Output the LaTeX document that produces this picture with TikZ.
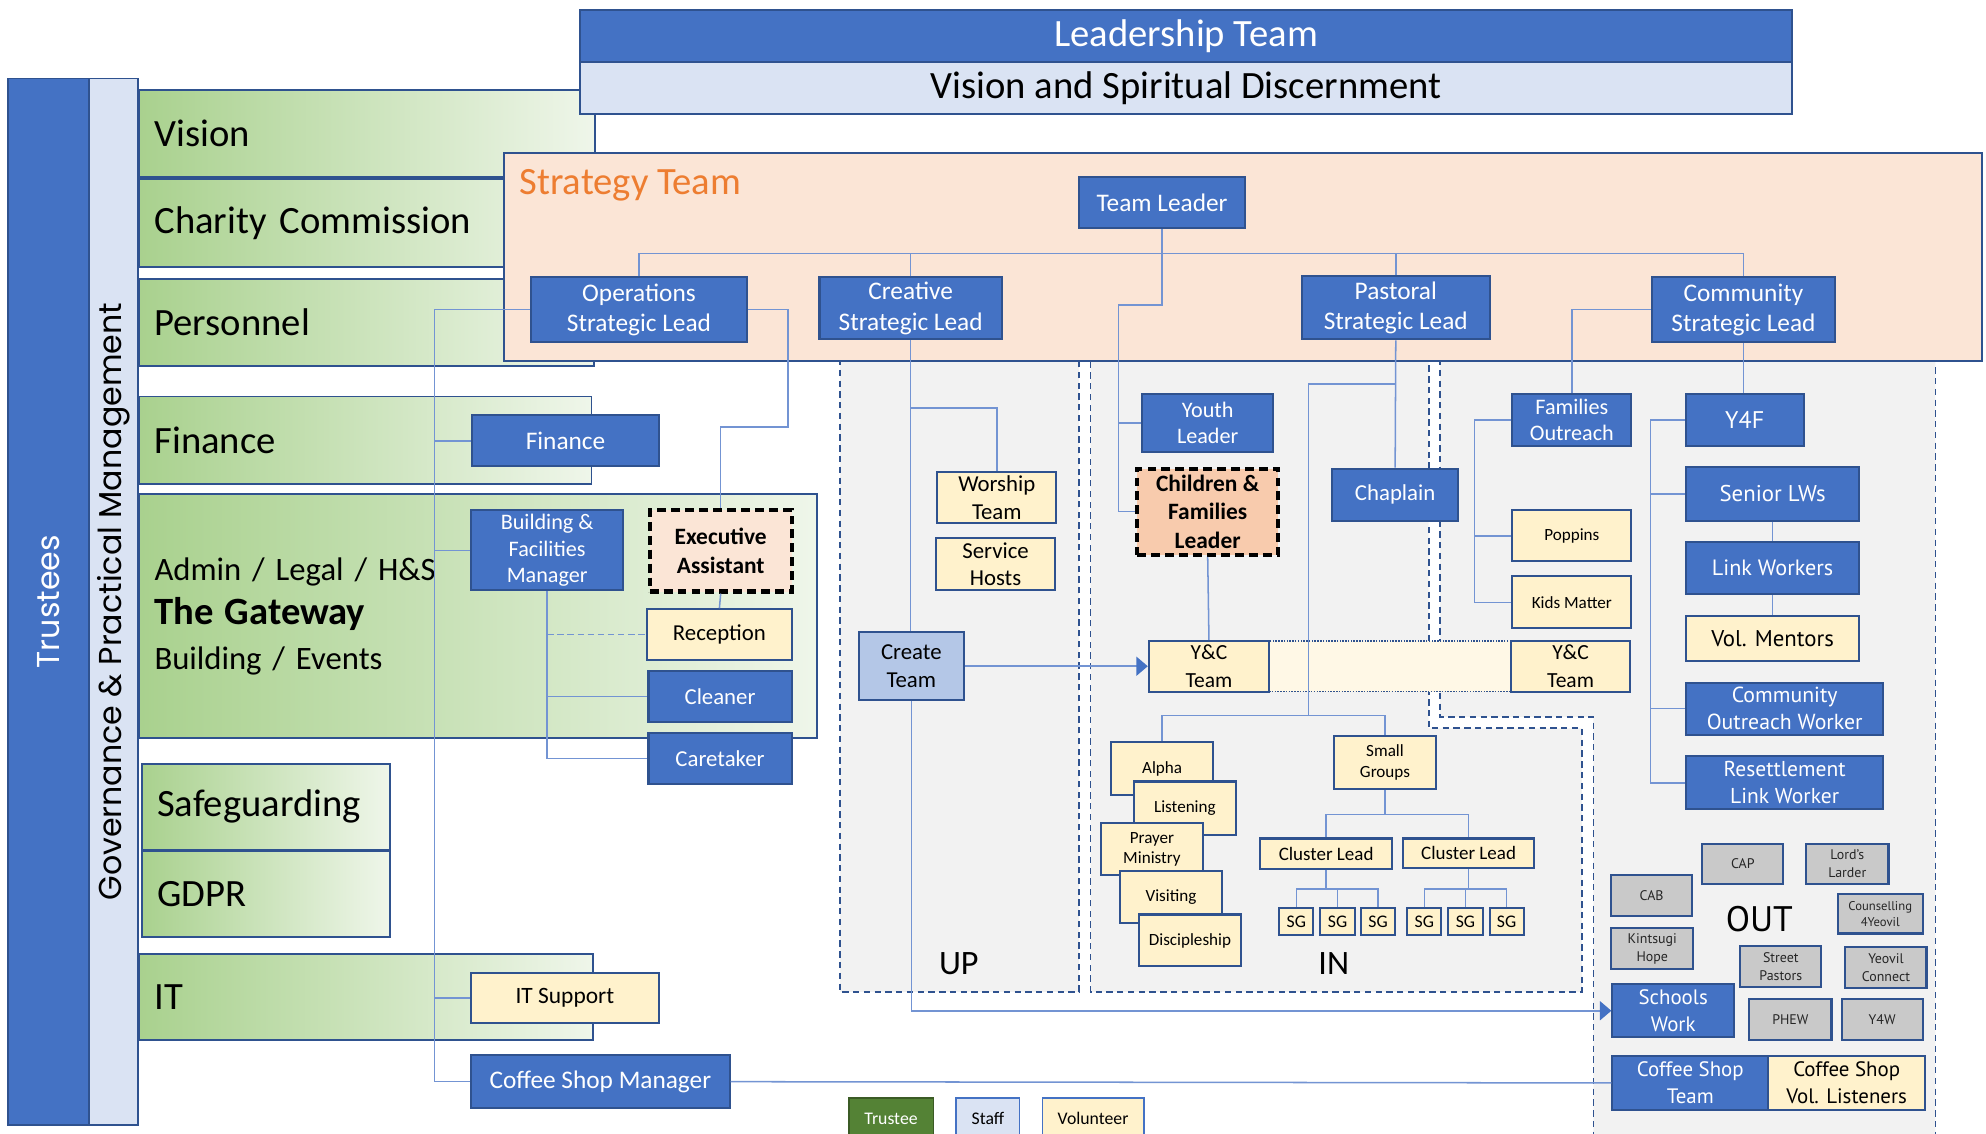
\documentclass[tikz,border=0pt]{standalone}
\usepackage{fontspec}
\setmainfont{Carlito}
\newfontfamily\ptsans{PT Sans}
\newfontfamily\gothic{Poppins}
\usetikzlibrary{arrows.meta}

\definecolor{staffblue}{HTML}{4472C4}
\definecolor{boxline}{HTML}{2F528F}
\definecolor{lineblue}{HTML}{7394D3}
\definecolor{volyellow}{HTML}{FFF2CC}
\definecolor{tiefill}{HTML}{FFF8E6}
\definecolor{lightstaff}{HTML}{DAE3F3}
\definecolor{createblue}{HTML}{B4C7E7}
\definecolor{peach}{HTML}{FBE5D6}
\definecolor{apricot}{HTML}{F8CBAD}
\definecolor{regiongray}{HTML}{F2F2F2}
\definecolor{partnergray}{HTML}{C9C9C9}
\definecolor{greenA}{HTML}{A9D18E}
\definecolor{greenB}{HTML}{EFF6EA}
\definecolor{stratorange}{HTML}{ED7D31}
\definecolor{trusteegreen}{HTML}{548235}

\newcommand{\fsz}[1]{\fontsize{#1}{\fpeval{1.2*#1}}\selectfont}

\begin{document}
\begin{tikzpicture}[x=1pt, y=-1pt]
\tikzset{
  wh/.style 2 args={minimum width=#1, minimum height=#2},
  conn/.style={draw=lineblue, line width=1.2},
  tip/.style={-{Triangle[length=9pt, width=15pt, color=staffblue, fill=staffblue]}},
  staff/.style={draw=boxline, line width=1.6, fill=staffblue, text=white, align=center, inner sep=0pt},
  vol/.style={draw=boxline, line width=1.6, fill=volyellow, text=black, align=center, inner sep=0pt},
  partner/.style={draw=boxline, line width=1.6, fill=partnergray, text=black!85, align=center, inner sep=0pt, font=\ptsans\fontsize{11}{14}\selectfont},
  keyrole/.style={draw=black, line width=3.2, dash pattern=on 7pt off 4pt, align=center, inner sep=0pt, font=\bfseries\fontsize{18.5}{22.5}\selectfont},
  band/.style={draw=boxline, line width=1.5, left color=greenA, right color=greenB, align=left, inner xsep=12, inner ysep=0, font=\fsz{30.5}},
  region/.style={fill=regiongray, draw=boxline, line width=1.3, dash pattern=on 5pt off 3.5pt},
}
\useasboundingbox (0,0) rectangle (1568,895);
\clip (0,0) rectangle (1568,895);

% UP / IN / OUT areas
\draw[region] (663,275) rectangle (852,783);
\draw[region] (861,275) -- (1128,275) -- (1128,575) -- (1249,575) -- (1249,783) -- (861,783) -- cycle;
\fill[regiongray] (1137,275) -- (1528,275) -- (1528,900) -- (1258,900) -- (1258,566) -- (1137,566) -- cycle;
\draw[region, fill=none] (1137,275) -- (1137,566) -- (1258,566) -- (1258,900);
\draw[region, fill=none] (1528,290) -- (1528,900);

% governance bands
\node[band, text width=336, minimum height=69] (vision) at (290,105.5) {Vision};
\node[band, text width=336, minimum height=70] (charity) at (290,176) {Charity Commission};
\node[band, text width=335, minimum height=69] (personnel) at (289.5,254.5) {Personnel};
\node[band, text width=333, minimum height=69] (finance) at (288.5,347.5) {Finance};
\node[band, text width=511, minimum height=193, font=\fontsize{25.8}{35}\selectfont] (gateway) at (377.5,486.5)
  {Admin / Legal / H\&S\\{\fontsize{30.5}{35}\selectfont\bfseries The Gateway}\\Building / Events};
\node[band, text width=172, minimum height=68] (safeguarding) at (210,637) {Safeguarding};
\node[band, text width=172, minimum height=68] (gdpr) at (210,706) {GDPR};
\node[band, text width=334, minimum height=68] (it) at (289,787) {IT};

% side bars
\node[draw=boxline, line width=1.5, fill=staffblue, text=white, font=\gothic\fsz{25}, rotate=90, wh={826}{64}, inner sep=0] (trustees) at (38,475) {Trustees};
\node[draw=boxline, line width=1.5, fill=lightstaff, text=black, font=\gothic\fsz{25}, rotate=90, wh={826}{39}, inner sep=0] (governance) at (89.5,475) {Governance \& Practical Management};

% leadership
\node[staff, wh={957}{41}, font=\fsz{30.5}] (leadership) at (936.5,28.5) {Leadership Team};
\node[staff, fill=lightstaff, text=black, wh={957}{41}, font=\fsz{30.5}] (discern) at (936.5,69.5) {Vision and Spiritual Discernment};

% strategy team
\node[draw=boxline, line width=1.5, fill=peach, wh={1167}{164}, inner sep=0] (strategy) at (981.5,203) {};
\node[anchor=west, text=stratorange, font=\fsz{30.5}, inner sep=0] (strattitle) at (410,146) {Strategy Team};
\node[staff, wh={131}{40}, font=\fsz{20}] (tl) at (917.5,160) {Team Leader};
\node[staff, wh={171}{51}, font=\fsz{20}] (ops) at (504.5,244.5) {Operations\\Strategic Lead};
\node[staff, wh={144}{49}, font=\fsz{20}] (cre) at (719,243.5) {Creative\\Strategic Lead};
\node[staff, wh={148}{50}, font=\fsz{20}] (pas) at (1102,243) {Pastoral\\Strategic Lead};
\node[staff, wh={145}{51}, font=\fsz{20}] (com) at (1376.5,244.5) {Community\\Strategic Lead};

% operations
\node[staff, wh={147}{40}, font=\fsz{20}] (finbox) at (446.5,348) {Finance};
\node[staff, wh={120}{63}, font=\fsz{17.5}] (bfm) at (432,434.5) {Building \&\\Facilities\\Manager};
\node[keyrole, fill=peach, wh={112}{64}] (exec) at (569,435) {Executive\\Assistant};
\node[vol, wh={114}{40}, font=\fsz{18}] (recep) at (568,501) {Reception};
\node[staff, wh={113}{40}, font=\fsz{18}] (clean) at (568.5,550) {Cleaner};
\node[staff, wh={113}{40}, font=\fsz{18}] (care) at (568.5,599) {Caretaker};
\node[vol, wh={148}{40}, font=\fsz{18.5}] (itsup) at (446,788) {IT Support};
\node[staff, wh={204}{42}, font=\fsz{20}] (csm) at (474,854) {Coffee Shop Manager};

% UP
\node[vol, wh={94}{40}, font=\fsz{18}] (worship) at (787,393) {Worship\\Team};
\node[vol, wh={94}{41}, font=\fsz{18}] (hosts) at (786,445.5) {Service\\Hosts};
\node[staff, fill=createblue, text=black, wh={83}{54}, font=\fsz{18}] (create) at (719.5,526) {Create\\Team};
\node[font=\fsz{27}] (uplabel) at (757,761) {UP};

% IN
\node[staff, wh={103}{46}, font=\fsz{17.5}] (youth) at (953.5,334) {Youth\\Leader};
\node[keyrole, fill=apricot, wh={111}{68}] (cfl) at (953.5,404) {Children \&\\Families\\Leader};
\node[staff, wh={99}{41}, font=\fsz{18}] (chap) at (1101.5,390.5) {Chaplain};
\node[draw=boxline, line width=1.2, densely dotted, fill=tiefill, wh={191}{40}] (yctie) at (1097.5,526) {};
\node[vol, wh={95}{40}, font=\fontsize{17}{21.5}\selectfont] (yc1) at (954.5,526) {Y\&C\\Team};
\node[vol, wh={94}{40}, font=\fontsize{17}{21.5}\selectfont] (yc2) at (1240,526) {Y\&C\\Team};
\node[vol, wh={81}{42}, font=\fsz{13.5}] (alpha) at (917.5,607) {Alpha};
\node[vol, wh={81}{42}, font=\fsz{13.5}] (listen) at (935.5,638) {Listening};
\node[vol, wh={81}{41}, font=\fsz{13.5}] (prayer) at (909.5,670.5) {Prayer\\Ministry};
\node[vol, wh={81}{41}, font=\fsz{13.5}] (visit) at (924.5,708.5) {Visiting};
\node[vol, wh={81}{41}, font=\fsz{13.5}] (disc) at (939.5,742.5) {Discipleship};
\node[vol, wh={81}{42}, font=\fsz{13.5}] (sgroups) at (1093.5,602) {Small\\Groups};
\node[vol, wh={104}{24}, font=\fsz{15}] (cl1) at (1047,674) {Cluster Lead};
\node[vol, wh={103}{23}, font=\fsz{15}] (cl2) at (1159.5,673.5) {Cluster Lead};
\foreach \n/\x in {1/1023.5, 2/1056, 3/1088, 4/1124.5, 5/1157, 6/1189.5}
  \node[vol, wh={27}{21}, font=\fsz{14}] (sg\n) at (\x,727.5) {SG};
\node[font=\fsz{27}] (inlabel) at (1053,761) {IN};

% OUT
\node[staff, wh={94}{41}, font=\fsz{17.5}] (fam) at (1241,331.5) {Families\\Outreach};
\node[vol, wh={94}{40}, font=\fsz{13.5}] (pop) at (1241,423) {Poppins};
\node[vol, wh={94}{41}, font=\fsz{13.5}] (kids) at (1241,475.5) {Kids Matter};
\node[staff, wh={93}{41}, font=\ptsans\fsz{19}] (y4f) at (1377.5,331.5) {Y4F};
\node[staff, wh={137}{42}, font=\ptsans\fsz{18}] (senior) at (1399.5,390) {Senior LWs};
\node[staff, wh={137}{41}, font=\ptsans\fsz{17.5}] (link) at (1399.5,448.5) {Link Workers};
\node[vol, wh={137}{36}, font=\ptsans\fsz{18}] (mentors) at (1399.5,504) {Vol. Mentors};
\node[staff, wh={156}{41}, font=\ptsans\fontsize{17.2}{21}\selectfont] (cow) at (1409,559.5) {Community\\Outreach Worker};
\node[staff, wh={156}{42}, font=\ptsans\fontsize{17}{21}\selectfont] (rlw) at (1409,618) {Resettlement\\Link Worker};
\node[partner, wh={64}{32}] (cap) at (1376,682) {CAP};
\node[partner, wh={65}{32}] (larder) at (1458.5,682) {Lord’s\\Larder};
\node[partner, wh={64}{32}] (cab) at (1304,707) {CAB};
\node[partner, wh={67}{31}, font=\ptsans\fontsize{10}{13}\selectfont] (couns) at (1484.5,721.5) {Counselling\\4Yeovil};
\node[partner, wh={65}{32}] (kints) at (1304.5,749) {Kintsugi\\Hope};
\node[partner, wh={64}{32}] (street) at (1406,763) {Street\\Pastors};
\node[partner, wh={64}{32}] (yconn) at (1489,764) {Yeovil\\Connect};
\node[partner, wh={65}{32}] (phew) at (1413.5,805) {PHEW};
\node[partner, wh={64}{32}] (y4w) at (1486,805) {Y4W};
\node[staff, wh={96}{42}, font=\ptsans\fontsize{16.5}{21.5}\selectfont] (schools) at (1321,798) {Schools\\Work};
\node[staff, wh={123}{42}, font=\ptsans\fontsize{16.5}{21.5}\selectfont] (cst) at (1334.5,855) {Coffee Shop\\Team};
\node[vol, wh={124}{42}, font=\ptsans\fontsize{16.5}{21.5}\selectfont] (csvl) at (1458,855) {Coffee Shop\\Vol. Listeners};
\node[font=\ptsans\fsz{28}] (outlabel) at (1389,726) {OUT};

% key
\node[draw=trusteegreen!70!black, line width=1.4, fill=trusteegreen, text=white, wh={67}{32}, font=\fsz{14}] (keytrustee) at (703.5,883) {Trustee};
\node[draw=staffblue, line width=1.4, fill=lightstaff, wh={50}{32}, font=\fsz{14}] (keystaff) at (780,883) {Staff};
\node[draw=staffblue, line width=1.4, fill=volyellow, wh={80}{32}, font=\fsz{14}] (keyvol) at (863,883) {Volunteer};

% strategy links
\coordinate (bus) at (0,200);
\draw[conn] (ops.north) |- (bus -| com.north) -- (com.north);
\draw[conn] (cre.north) -- (cre.north |- bus);
\draw[conn] (pas.north) -- (pas.north |- bus);
\draw[conn] (tl.south) -- (tl.south |- bus);
\coordinate (tlturn) at (883,241);
\draw[conn] (tl.south) |- (tlturn) |- (cfl.west);
\draw[conn] (tlturn |- youth.west) -- (youth.west);

% operations links
\coordinate (opsturn) at (343,0);
\draw[conn] (ops.west) -| (opsturn |- csm.west) -- (csm.west);
\foreach \n in {finbox, bfm, itsup}
  \draw[conn] (opsturn |- \n.west) -- (\n.west);
\coordinate (execturn) at (622,337);
\draw[conn] (ops.east) -| (execturn) -| (exec.north);
\draw[conn] (exec.south) -- (recep.north);
\draw[conn] (bfm.south) |- (care.west);
\draw[conn] (bfm.south |- clean.west) -- (clean.west);
\draw[conn, dash pattern=on 5pt off 3pt] (bfm.south |- recep.west) -- (recep.west);
\draw[conn] (csm.east) -- (cst.west);

% creative links
\coordinate (creturn) at (719,322);
\draw[conn] (cre.south) -- (cre.south |- create.north);
\draw[conn] (creturn) -| (worship.north);
\draw[conn, tip] (create.east) -- (yc1.west);
\draw[conn, tip] (create.south) |- (schools.west);
\draw[conn] (cfl.south) -- (yc1.north);

% pastoral links
\coordinate (pasturn) at (1033,303);
\coordinate (inbus) at (0,565);
\draw[conn] (pas.south) -- (chap.north);
\draw[conn] (pas.south |- pasturn) -- (pasturn) -- (pasturn |- inbus);
\draw[conn] (alpha.north) |- (inbus -| sgroups.north) -- (sgroups.north);
\coordinate (sgbus) at (0,643);
\draw[conn] (sgroups.south) -- (sgroups.south |- sgbus);
\draw[conn] (cl1.north) |- (sgbus -| cl2.north) -- (cl2.north);
\coordinate (clbus) at (0,702);
\draw[conn] (cl1.south) -- (cl1.south |- clbus);
\draw[conn] (sg1.north) |- (clbus -| sg3.north) -- (sg3.north);
\draw[conn] (sg2.north) -- (sg2.north |- clbus);
\draw[conn] (cl2.south) -- (cl2.south |- clbus);
\draw[conn] (sg4.north) |- (clbus -| sg6.north) -- (sg6.north);
\draw[conn] (sg5.north) -- (sg5.north |- clbus);

% community links
\draw[conn] (com.west) -| (fam.north);
\draw[conn] (com.south) -- (com.south |- y4f.north);
\coordinate (famturn) at (1164,0);
\draw[conn] (fam.west) -| (famturn |- kids.west) -- (kids.west);
\draw[conn] (famturn |- pop.west) -- (pop.west);
\coordinate (y4fturn) at (1303,0);
\draw[conn] (y4f.west) -| (y4fturn |- rlw.west) -- (rlw.west);
\foreach \n in {senior, cow}
  \draw[conn] (y4fturn |- \n.west) -- (\n.west);
\draw[conn] (senior.south) -- (link.north);
\draw[conn] (link.south) -- (mentors.north);
\end{tikzpicture}
\end{document}
